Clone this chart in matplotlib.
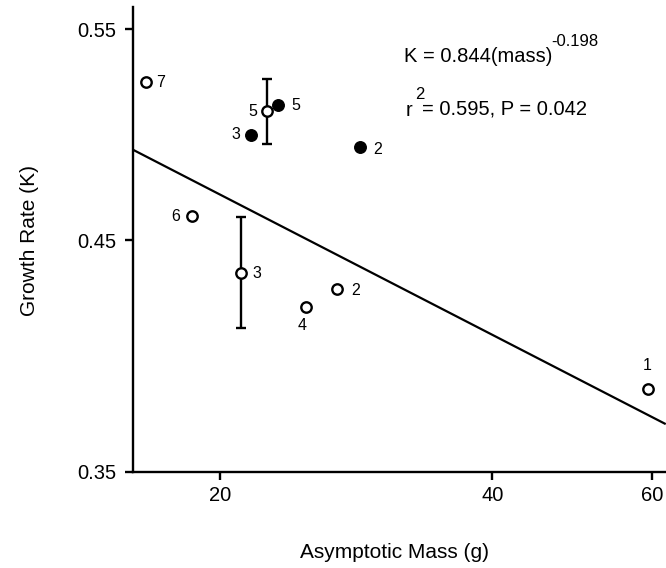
import numpy as np
import matplotlib
matplotlib.use("Agg")
import matplotlib.pyplot as plt

plt.rcParams['font.family'] = ['Liberation Sans', 'DejaVu Sans']

# Open circles (with labels)
open_mass = [16.55, 22.56, 18.63, 21.08, 24.87, 26.95, 59.35]
open_k = [0.524, 0.510, 0.461, 0.435, 0.420, 0.428, 0.3845]
open_labels = ['7', '5', '6', '3', '4', '2', '1']
# Filled circles
filled_mass = [23.17, 21.64, 28.58]
filled_k = [0.513, 0.499, 0.493]
filled_labels = ['5', '3', '2']
# Error bars (on two open points)
err_mass = [22.56, 21.08]
err_k = [0.510, 0.435]
err_lo = [0.0155, 0.0243]
err_hi = [0.0155, 0.0254]
# Fitted line endpoints
line_mass = [16.0, 62.0]
line_k = [0.492, 0.370]

x_ticks = [20, 40, 60]
y_ticks = [0.35, 0.45, 0.55]

W, H = 666, 568
fig = plt.figure(figsize=(W / 100, H / 100), dpi=100)
ax = fig.add_axes([133 / W, 1 - 472 / H, (666 - 133) / W, (472 - 7) / H])

p = 0.58
ax.set_xscale('log')
ax.set_yscale('function', functions=(lambda v: np.power(np.clip(v, 1e-9, None), p),
                                     lambda v: np.power(np.clip(v, 1e-9, None), 1 / p)))
ax.set_xlim(16.03, 62.2)
ax.set_ylim(0.35, 0.561)

ax.plot(line_mass, line_k, color='black', lw=1.6, zorder=2)

ax.errorbar(err_mass, err_k, yerr=[err_lo, err_hi], fmt='none', ecolor='black',
            elinewidth=1.7, capsize=3.5, capthick=1.7, zorder=3)

ax.plot(open_mass, open_k, 'o', ms=7.5, mfc='white', mec='black', mew=1.7,
        ls='none', zorder=4)
ax.plot(filled_mass, filled_k, 'o', ms=8.3, mfc='black', mec='black', mew=1,
        ls='none', zorder=4)

lab_fs = 11.5
open_offsets = [(7.5, 0, 'left'), (-7, 0, 'right'), (-8.5, 0, 'right'), (8.5, 0, 'left'),
                (-2.5, -13.5, 'center'), (10, -1, 'left'), (0, 17, 'center')]
for m, k, lab, (dx, dy, ha) in zip(open_mass, open_k, open_labels, open_offsets):
    ax.annotate(lab, (m, k), xytext=(dx, dy), textcoords='offset points',
                ha=ha, va='center', fontsize=lab_fs)
filled_offsets = [(9.5, 0, 'left'), (-8, 0, 'right'), (9, -1.5, 'left')]
for m, k, lab, (dx, dy, ha) in zip(filled_mass, filled_k, filled_labels, filled_offsets):
    ax.annotate(lab, (m, k), xytext=(dx, dy), textcoords='offset points',
                ha=ha, va='center', fontsize=lab_fs)

for s in ['top', 'right']:
    ax.spines[s].set_visible(False)
for s in ['left', 'bottom']:
    ax.spines[s].set_linewidth(1.7)

ax.xaxis.set_minor_locator(matplotlib.ticker.NullLocator())
ax.yaxis.set_minor_locator(matplotlib.ticker.NullLocator())
ax.set_xticks(x_ticks)
ax.set_xticklabels([str(t) for t in x_ticks])
ax.set_yticks(y_ticks)
ax.set_yticklabels([f'{t:.2f}' for t in y_ticks])
ax.tick_params(axis='both', direction='out', length=6, width=1.7, labelsize=14.5)
ax.tick_params(axis='y', pad=6)
ax.tick_params(axis='x', pad=4)

fig.text(30 / W, 1 - 240 / H, 'Growth Rate (K)', rotation=90, ha='center', va='center', fontsize=15)
fig.text(395 / W, 1 - 553 / H, 'Asymptotic Mass (g)', ha='center', va='center', fontsize=15)

fig.text(404 / W, 1 - 56 / H, 'K = 0.844(mass)', ha='left', va='center', fontsize=14.5)
fig.text(551 / W, 1 - 41 / H, '-0.198', ha='left', va='center', fontsize=12)
fig.text(406 / W, 1 - 110 / H, 'r', ha='left', va='center', fontsize=14.5)
fig.text(415 / W, 1 - 95 / H, '2', ha='left', va='center', fontsize=12)
fig.text(422 / W, 1 - 109 / H, '= 0.595, P = 0.042', ha='left', va='center', fontsize=14.5)

fig.savefig('out.png', dpi=100)
